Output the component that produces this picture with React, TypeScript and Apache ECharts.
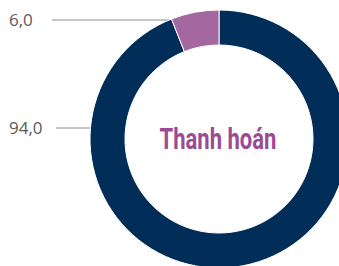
import React, { useEffect, useRef } from "react";
import * as echarts from "echarts";

const categories = ["Khác", "Thanh hoán"];
const values = [94.0, 6.0];
const colors = ["#002E58", "#A5679F"];
const centerTitle = "Thanh hoán";

const fmt = (v: number) => v.toFixed(1).replace(".", ",");

export default function App() {
  const ref = useRef<HTMLDivElement>(null);
  useEffect(() => {
    document.body.style.margin = "0";
    const chart = echarts.init(ref.current!, null, { renderer: "svg" });
    const lineColor = "#8c8c8c";
    chart.setOption({
      animation: false,
      backgroundColor: "#ffffff",
      series: [
        {
          type: "pie",
          center: [219, 139],
          radius: [94, 129],
          startAngle: 90,
          clockwise: true,
          silent: true,
          label: { show: false },
          labelLine: { show: false },
          itemStyle: { borderColor: "#ffffff", borderWidth: 1 },
          data: categories.map((c, i) => ({
            name: c,
            value: values[i],
            itemStyle: { color: colors[i] },
          })),
        },
      ],
      graphic: [
        {
          type: "line",
          shape: { x1: 52, y1: 20, x2: 170, y2: 20 },
          style: { stroke: lineColor, lineWidth: 1 },
        },
        {
          type: "line",
          shape: { x1: 56, y1: 128, x2: 114, y2: 128 },
          style: { stroke: lineColor, lineWidth: 1 },
        },
        {
          type: "text",
          x: 9,
          y: 19,
          style: {
            text: fmt(values[1]),
            fill: "#595959",
            font: '17px "Open Sans", sans-serif',
            verticalAlign: "middle",
            align: "left",
          },
        },
        {
          type: "text",
          x: 9,
          y: 127,
          style: {
            text: fmt(values[0]),
            fill: "#595959",
            font: '17px "Open Sans", sans-serif',
            verticalAlign: "middle",
            align: "left",
          },
        },
        {
          type: "text",
          x: 218,
          y: 139,
          scaleX: 0.76,
          style: {
            text: centerTitle,
            fill: "#9B4A95",
            font: 'bold 29px Roboto, sans-serif',
            verticalAlign: "middle",
            align: "center",
          },
        },
      ],
    });
    return () => chart.dispose();
  }, []);
  return <div ref={ref} style={{ width: 339, height: 266 }} />;
}
